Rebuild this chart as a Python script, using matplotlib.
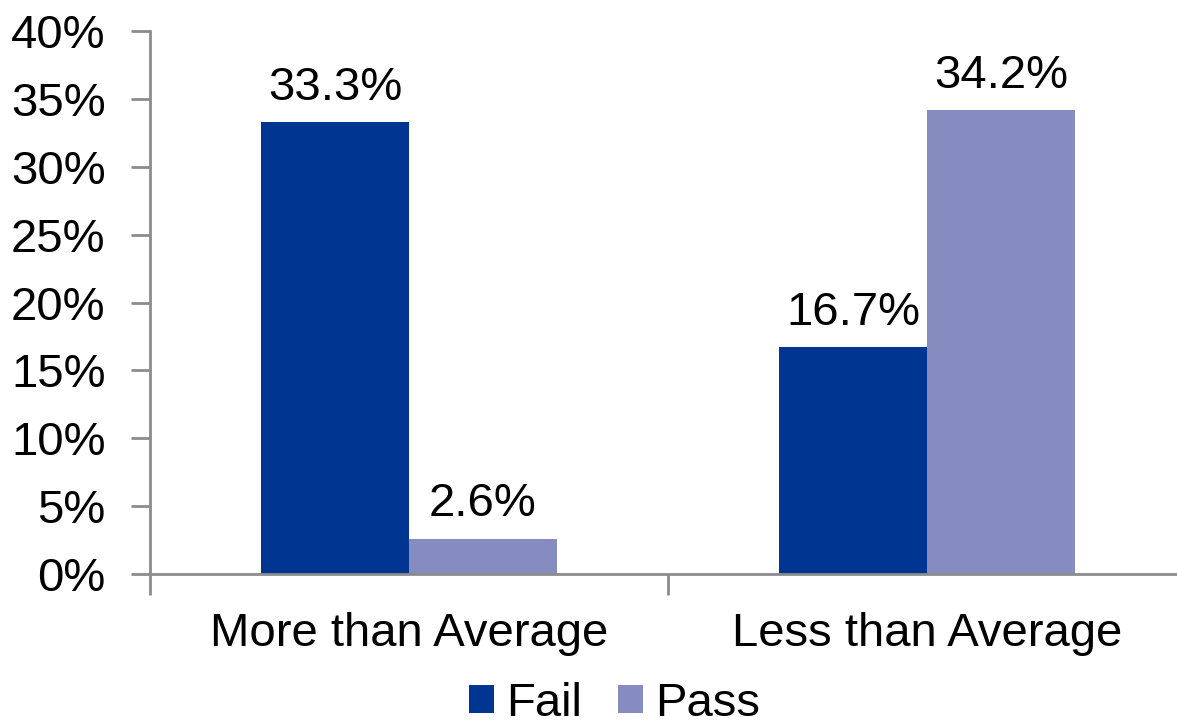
import numpy as np
import matplotlib.pyplot as plt
from matplotlib.ticker import PercentFormatter

categories = ['More than Average', 'Less than Average']
fail = [33.3, 16.7]
pass_ = [2.6, 34.2]
series_names = ['Fail', 'Pass']
colors = ['#003591', '#878cc0']

plt.rcParams['font.family'] = ['Liberation Sans', 'DejaVu Sans']
fs = 34

fig = plt.figure(figsize=(11.77, 7.26), dpi=100)
ax = fig.add_axes([150 / 1177, 152 / 726, 1036 / 1177, 543 / 726])

x = np.arange(len(categories))
w = 0.2857
b1 = ax.bar(x - w / 2, fail, w, color=colors[0], label=series_names[0])
b2 = ax.bar(x + w / 2, pass_, w, color=colors[1], label=series_names[1])

for bars, vals in [(b1, fail), (b2, pass_)]:
    for r, v in zip(bars, vals):
        ax.text(r.get_x() + r.get_width() / 2, v + 0.9, f'{v:.1f}%',
                ha='center', va='bottom', fontsize=fs)

ax.set_xlim(-0.5, 1.5)
ax.set_ylim(0, 40)
ax.set_yticks(np.arange(0, 41, 5))
ax.yaxis.set_major_formatter(PercentFormatter(decimals=0))
ax.set_xticks(x)
ax.set_xticklabels(categories)
ax.tick_params(axis='x', length=0, pad=27, labelsize=fs)
ax.tick_params(axis='y', length=14, width=2, color='#8c8c8c', labelsize=fs, pad=18)
# category separator ticks
ax.set_xticks([-0.5, 0.5, 1.5], minor=True)
ax.tick_params(axis='x', which='minor', length=15, width=2, color='#8c8c8c')

for s in ['top', 'right']:
    ax.spines[s].set_visible(False)
for s in ['left', 'bottom']:
    ax.spines[s].set_color('#8c8c8c')
    ax.spines[s].set_linewidth(2)

fig.legend(loc='lower center', bbox_to_anchor=(0.522, -0.058), ncol=2, frameon=False,
           fontsize=fs, handlelength=0.53, handleheight=0.53, handletextpad=0.26,
           columnspacing=0.75)

fig.savefig('out.png', dpi=100)
